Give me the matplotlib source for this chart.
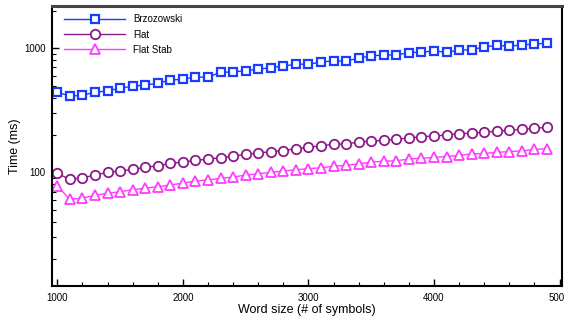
import numpy as np
import matplotlib
matplotlib.use("Agg")
import matplotlib.pyplot as plt
from matplotlib.ticker import FixedLocator, LogLocator, NullFormatter

plt.rcParams['font.family'] = ['Liberation Sans', 'DejaVu Sans']

# word sizes
sizes = list(range(1000, 5000, 100))

brzozowski = [442, 412, 418, 442, 453, 478, 494, 506, 522, 555,
              562, 587, 584, 640, 644, 660, 677, 698, 720, 743,
              745, 771, 794, 785, 835, 867, 883, 883, 922, 929,
              951, 929, 963, 975, 1024, 1057, 1038, 1063, 1083, 1097]
flat = [98, 87.9, 90.4, 95.1, 100, 102.4, 105.7, 109.7, 113, 118,
        121, 125, 128, 131, 135, 140, 143, 147, 150, 155,
        159, 164, 168, 170, 175, 179, 181, 185, 189, 194,
        196, 200, 205, 207, 211, 214, 218, 222, 226, 231]
flat_stab = [77.6, 60.6, 62.1, 65.3, 67.8, 69.9, 72.5, 74.7, 76.6, 79,
             82, 85, 87, 89.5, 91.7, 95, 97.4, 100, 102.4, 105,
             107, 109, 112, 114, 117, 121, 123, 124, 128, 130,
             132, 134, 137, 141, 142, 145, 147, 149, 153, 155]

fig = plt.figure(figsize=(5.64, 3.24), dpi=100)
ax = fig.add_axes([0.0927, 0.118, 0.904, 0.8635])

ax.plot(sizes, brzozowski, color='#1a3cff', marker='s', markersize=6.3,
        markerfacecolor='white', markeredgewidth=1.6, linewidth=1, label='Brzozowski')
ax.plot(sizes, flat, color='#8b1a89', marker='o', markersize=6.8,
        markerfacecolor='white', markeredgewidth=1.3, linewidth=1, label='Flat')
ax.plot(sizes, flat_stab, color='#ff3cff', marker='^', markersize=6.8,
        markerfacecolor='white', markeredgewidth=1.3, linewidth=1, label='Flat Stab')

ax.set_yscale('log')
ax.set_xlim(960, 5021)
ax.set_ylim(12.2, 2190)

ax.xaxis.set_major_locator(FixedLocator([1000, 2000, 3000, 4000, 5000]))
ax.xaxis.set_minor_locator(FixedLocator(list(range(1000, 5001, 200))))
ax.yaxis.set_major_locator(LogLocator(base=10))
ax.yaxis.set_minor_locator(LogLocator(base=10, subs=np.arange(2, 10)))
ax.yaxis.set_minor_formatter(NullFormatter())
ax.set_yticks([100, 1000])
ax.set_yticklabels(['100', '1000'])

ax.tick_params(which='both', direction='in', top=False, right=False, labelsize=7, colors='black')
ax.tick_params(which='major', length=5, width=1)
ax.tick_params(which='minor', length=3, width=0.8)
ax.tick_params(axis='x', pad=5)
ax.tick_params(axis='y', pad=5)

for side in ['left', 'bottom', 'right']:
    ax.spines[side].set_linewidth(1.5)
    ax.spines[side].set_color('black')
ax.spines['top'].set_linewidth(2.2)
ax.spines['top'].set_color('#444444')

ax.set_xlabel('Word size (# of symbols)', fontsize=9, labelpad=1)
ax.set_ylabel('Time (ms)', fontsize=9, labelpad=2)

ax.legend(loc='upper left', frameon=False, fontsize=7, handlelength=6.3,
          labelspacing=0.55, bbox_to_anchor=(0.01, 0.995), borderaxespad=0.3)

fig.savefig('out.png', dpi=100)
